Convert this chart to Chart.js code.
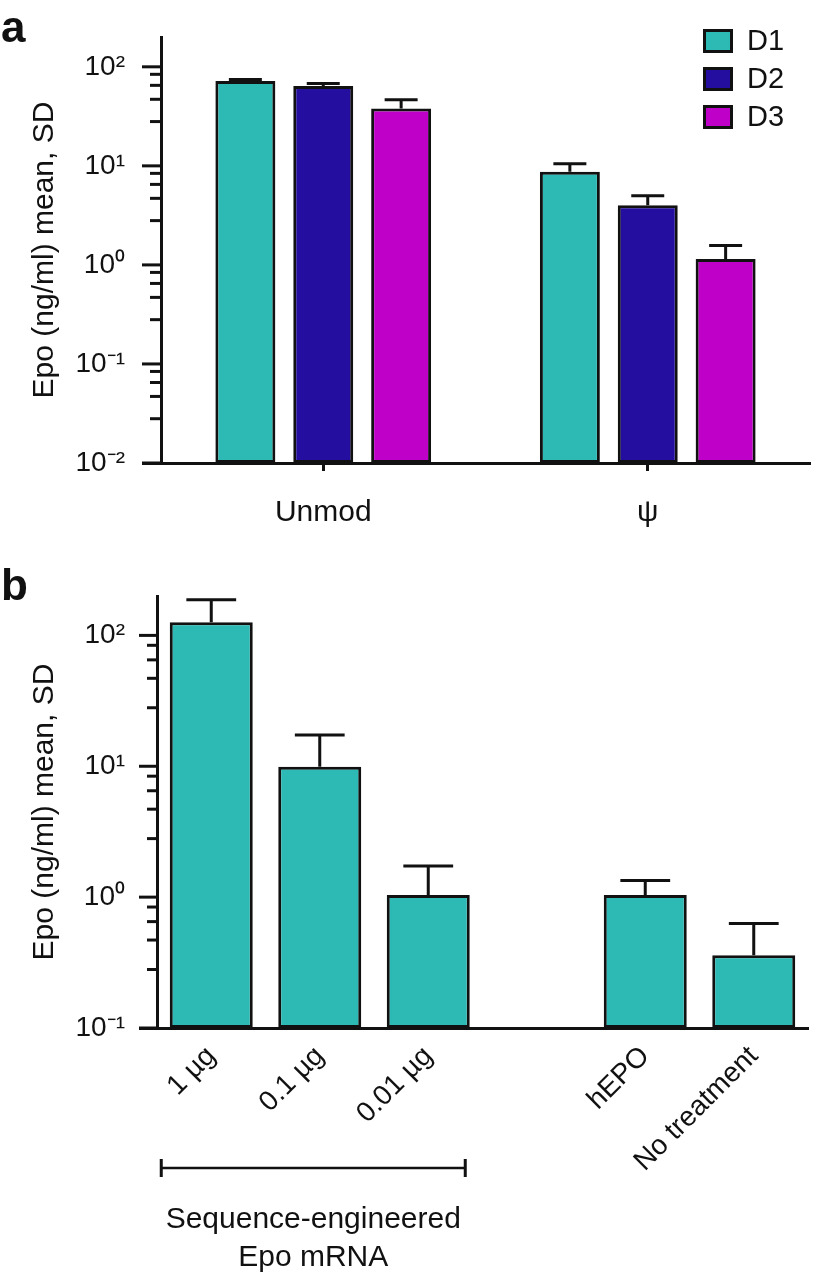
<!DOCTYPE html>
<html><head><meta charset="utf-8">
<script src="https://cdn.jsdelivr.net/npm/chart.js@4"></script>
<style>
html,body{margin:0;padding:0;background:#fff;}
#wrap{position:relative;width:819px;height:1273px;overflow:hidden;}
canvas{position:absolute;left:0;display:block;}
#ca{top:0}
#cb{top:550px}
</style></head><body>
<div id="wrap">
<canvas id="ca" width="819" height="550"></canvas>
<canvas id="cb" width="819" height="723"></canvas>
</div>
<script>
// ---------- data: panel a ----------
const groupsA = ['Unmod', 'ψ'];
const seriesA = ['D1', 'D2', 'D3'];
const d1Mean = [72, 8.7];
const d1Sd = [2.5, 1.8];
const d2Mean = [64, 4.0];
const d2Sd = [4, 1.0];
const d3Mean = [38, 1.15];
const d3Sd = [8.5, 0.42];
const colorsA = ['#2DB9B4', '#230E9F', '#BE00C8'];

// ---------- data: panel b ----------
const categoriesB = ['1 µg', '0.1 µg', '0.01 µg', '', 'hEPO', 'No treatment'];
const meanB = [126, 9.9, 1.04, null, 1.04, 0.36];
const sdB = [61, 7.4, 0.69, null, 0.30, 0.27];
const colorB = '#2DB9B4';
const bracketText = ['Sequence-engineered', 'Epo mRNA'];

// ---------- axis ticks ----------
const yTickValuesA = [0.01, 0.1, 1, 10, 100];
const yTickLabelsA = ['10⁻²', '10⁻¹', '10⁰', '10¹', '10²'];
const yTickValuesB = [0.1, 1, 10, 100];
const yTickLabelsB = ['10⁻¹', '10⁰', '10¹', '10²'];
const minorMultipliers = [2.8, 4.7, 6.5, 8.4];
const yTitle = 'Epo (ng/ml) mean, SD';

const family = "'Liberation Sans', Arial, Helvetica, sans-serif";
const ink = '#111';

function buildTicks(majors) {
  const vals = [];
  majors.forEach((m, i) => {
    vals.push(m);
    if (i < majors.length - 1) minorMultipliers.forEach(k => vals.push(m * k));
  });
  return vals.map(v => ({ value: v }));
}
function labelFor(values, labels) {
  return (v) => {
    const i = values.findIndex(t => Math.abs(t - v) / t < 1e-6);
    return i >= 0 ? labels[i] : '';
  };
}
function alignPx(p, w) { return Math.round(p - w / 2) + w / 2; }

function makeDecor(cfg) {
  return {
    id: 'decor_' + cfg.letter,
    afterDatasetsDraw(chart) {
      const ctx = chart.ctx, y = chart.scales.y;
      ctx.save();
      ctx.strokeStyle = ink; ctx.lineWidth = 3; ctx.lineCap = 'butt';
      chart.data.datasets.forEach((ds, di) => {
        const meta = chart.getDatasetMeta(di);
        const sds = cfg.sds[di];
        meta.data.forEach((bar, j) => {
          const m = ds.data[j];
          if (m == null || sds[j] == null) return;
          const top = y.getPixelForValue(m + sds[j]);
          const x = bar.x, cw = bar.width * cfg.capFrac;
          ctx.beginPath();
          ctx.moveTo(x, bar.y); ctx.lineTo(x, top);
          ctx.moveTo(x - cw / 2, top); ctx.lineTo(x + cw / 2, top);
          ctx.stroke();
        });
      });
      ctx.restore();
    },
    afterDraw(chart) {
      const ctx = chart.ctx, y = chart.scales.y, ca = chart.chartArea;
      ctx.save();
      ctx.strokeStyle = ink; ctx.lineWidth = 3;
      // y ticks (major / minor)
      y.ticks.forEach(t => {
        const p = y.getPixelForValue(t.value);
        const lg = Math.log10(t.value);
        const major = Math.abs(lg - Math.round(lg)) < 1e-6;
        const len = major ? cfg.majorLen : cfg.minorLen;
        ctx.beginPath(); ctx.moveTo(ca.left - len, p); ctx.lineTo(ca.left + 1, p); ctx.stroke();
      });
      // x-axis line extension to the left
      const by = alignPx(ca.bottom, 3);
      ctx.beginPath(); ctx.moveTo(ca.left - cfg.majorLen, by); ctx.lineTo(ca.left + 2, by); ctx.stroke();
      // panel letter
      ctx.fillStyle = ink;
      ctx.font = 'bold 44px ' + family;
      ctx.textAlign = 'left'; ctx.textBaseline = 'alphabetic';
      ctx.fillText(cfg.letter, 1, cfg.letterY);
      // legend
      if (cfg.legend) {
        ctx.font = '29px ' + family;
        ctx.textBaseline = 'middle';
        chart.data.datasets.forEach((ds, i) => {
          const bx = ca.right - 107, byy = ca.top - 8 + i * 38;
          ctx.fillStyle = ds.backgroundColor;
          ctx.fillRect(bx, byy, 30, 24);
          ctx.lineWidth = 3; ctx.strokeStyle = ink;
          ctx.strokeRect(bx + 1.5, byy + 1.5, 27, 21);
          ctx.fillStyle = ink;
          ctx.fillText(ds.label, bx + 44, byy + 13);
        });
      }
      // bracket
      if (cfg.bracket) {
        const x = chart.scales.x;
        const x0 = x.getPixelForValue(0) - 50, x1 = x.getPixelForValue(2) + 37;
        const yb = ca.bottom + 140;
        ctx.strokeStyle = ink;
        ctx.lineWidth = 2.5;
        ctx.beginPath(); ctx.moveTo(x0, yb); ctx.lineTo(x1, yb); ctx.stroke();
        ctx.lineWidth = 3;
        ctx.beginPath();
        ctx.moveTo(x0, yb - 9); ctx.lineTo(x0, yb + 9);
        ctx.moveTo(x1, yb - 9); ctx.lineTo(x1, yb + 9);
        ctx.stroke();
        ctx.fillStyle = ink;
        ctx.font = '30px ' + family;
        ctx.textAlign = 'center'; ctx.textBaseline = 'alphabetic';
        const cx = (x0 + x1) / 2;
        ctx.fillText(bracketText[0], cx, yb + 60);
        ctx.fillText(bracketText[1], cx, yb + 98);
      }
      ctx.restore();
    }
  };
}

function yScale(min, tickVals, tickLabels, width, gap) {
  return {
    type: 'logarithmic', min: min, max: 200,
    afterBuildTicks: s => { s.ticks = buildTicks(tickVals); },
    afterFit: s => { s.width = width; },
    grid: { display: true, drawOnChartArea: false, drawTicks: true, tickLength: gap, tickColor: 'rgba(0,0,0,0)' },
    border: { display: true, color: ink, width: 3 },
    ticks: {
      autoSkip: false, padding: 0, color: ink,
      font: { size: 28, family: family },
      callback: labelFor(tickVals, tickLabels)
    },
    title: {
      display: true, text: yTitle, color: ink,
      font: { size: 30, family: family },
      padding: { top: 27, bottom: 0 }
    }
  };
}

// ---------- panel a ----------
const meansA = [d1Mean, d2Mean, d3Mean];
const sdsA = [d1Sd, d2Sd, d3Sd];
new Chart(document.getElementById('ca'), {
  type: 'bar',
  data: {
    labels: groupsA,
    datasets: seriesA.map((s, i) => ({
      label: s, data: meansA[i],
      backgroundColor: colorsA[i], borderColor: ink, borderWidth: 3, borderSkipped: false,
      barPercentage: 0.77, categoryPercentage: 0.72
    }))
  },
  options: {
    responsive: false, animation: false, devicePixelRatio: 1,
    layout: { padding: { top: 37, right: 9, left: 0, bottom: 0 } },
    plugins: { legend: { display: false }, tooltip: { enabled: false } },
    scales: {
      x: {
        afterFit: s => { s.height = 87; },
        grid: { display: true, drawOnChartArea: false, drawTicks: true, tickLength: 8, tickWidth: 3, tickColor: ink, offset: false },
        border: { display: true, color: ink, width: 3 },
        ticks: { font: { size: 30, family: family }, color: ink, padding: 24, maxRotation: 0, minRotation: 0 }
      },
      y: yScale(0.01, yTickValuesA, yTickLabelsA, 161, 36)
    }
  },
  plugins: [makeDecor({ letter: 'a', letterY: 42, sds: sdsA, capFrac: 0.55, majorLen: 19, minorLen: 11, legend: true })]
});

// ---------- panel b ----------
new Chart(document.getElementById('cb'), {
  type: 'bar',
  data: {
    labels: categoriesB,
    datasets: [{
      label: 'Epo', data: meanB,
      backgroundColor: colorB, borderColor: ink, borderWidth: 3, borderSkipped: false,
      barPercentage: 0.765, categoryPercentage: 1
    }]
  },
  options: {
    responsive: false, animation: false, devicePixelRatio: 1,
    layout: { padding: { top: 46, right: 11, left: 0, bottom: 0 } },
    plugins: { legend: { display: false }, tooltip: { enabled: false } },
    scales: {
      x: {
        afterFit: s => { s.height = 245; },
        grid: { display: false, drawTicks: false },
        border: { display: true, color: ink, width: 3 },
        ticks: { font: { size: 28, family: family }, color: ink, padding: 12, maxRotation: 45, minRotation: 45, autoSkip: false }
      },
      y: yScale(0.1, yTickValuesB, yTickLabelsB, 157, 32)
    }
  },
  plugins: [makeDecor({ letter: 'b', letterY: 50, sds: [sdB], capFrac: 0.6, majorLen: 18, minorLen: 10, bracket: true })]
});
</script>
</body></html>
